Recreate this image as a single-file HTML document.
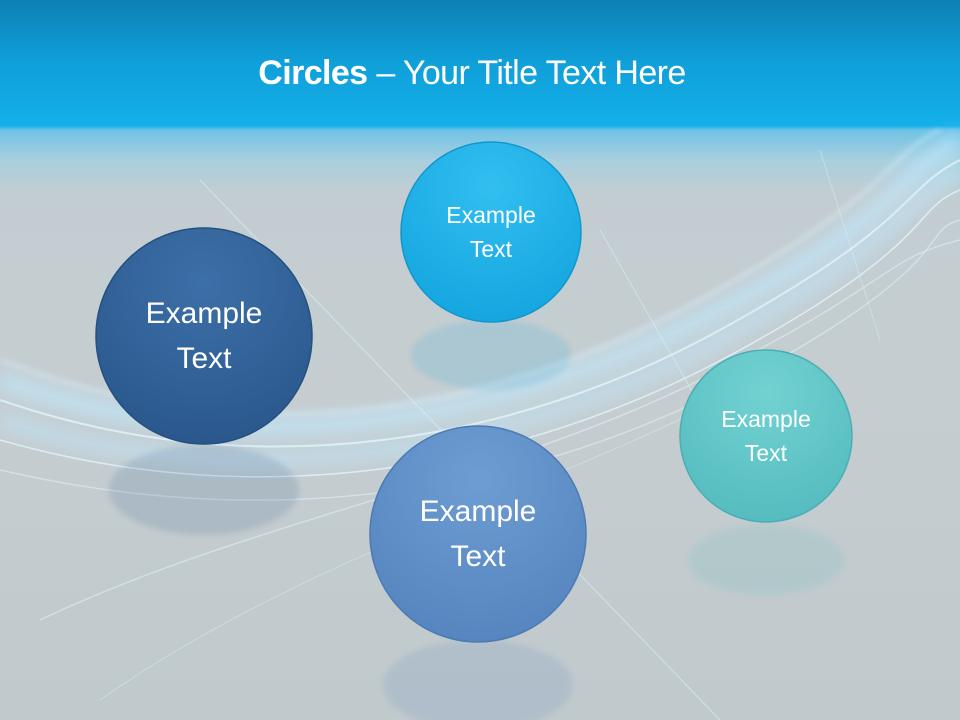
<!DOCTYPE html>
<html><head><meta charset="utf-8"><style>
html,body{margin:0;padding:0}
body{width:960px;height:720px;position:relative;overflow:hidden;font-family:"Liberation Sans",sans-serif;
background:linear-gradient(180deg,#0c80b2 0px,#0f9ed8 60px,#14b0ea 126px,#6fc3e6 130px,#a9cfde 160px,#c3cdd1 195px,#c5cdd0 400px,#c0c9cc 720px)}
.title{position:absolute;top:54px;left:0;width:944px;text-align:center;color:#fff;font-size:34px;letter-spacing:-0.6px}
.c{position:absolute;border-radius:50%;display:flex;align-items:center;justify-content:center;text-align:center;color:#fff;line-height:1.5}
</style></head><body>
<svg width="960" height="720" style="position:absolute;left:0;top:0">
<defs>
<filter id="b" x="-20%" y="-20%" width="140%" height="140%"><feGaussianBlur stdDeviation="3"/></filter>
<filter id="b2"><feGaussianBlur stdDeviation="8"/></filter>
<radialGradient id="r1" cx="50%" cy="25%" r="75%"><stop offset="0" stop-color="#3d6fa8"/><stop offset="1" stop-color="#2a588d"/></radialGradient>
<radialGradient id="r2" cx="50%" cy="25%" r="75%"><stop offset="0" stop-color="#32bff0"/><stop offset="1" stop-color="#15a6e0"/></radialGradient>
<radialGradient id="r3" cx="50%" cy="25%" r="75%"><stop offset="0" stop-color="#6d9dd2"/><stop offset="1" stop-color="#5685bf"/></radialGradient>
<radialGradient id="r4" cx="50%" cy="25%" r="75%"><stop offset="0" stop-color="#72d2d2"/><stop offset="1" stop-color="#56bcbf"/></radialGradient>
</defs>
<g fill="none" stroke="#dff4ff" opacity="0.85">
<path d="M0 380 C250 470 500 420 700 320 S900 170 960 140" stroke-width="18" filter="url(#b2)" opacity="0.8" stroke="#bfe9ff"/>
<path d="M0 420 C250 500 520 450 720 340 S900 200 960 170" stroke-width="14" filter="url(#b2)" opacity="0.7" stroke="#bfe9ff"/>
<path d="M0 360 C260 460 500 410 700 300 S880 160 940 130" stroke-width="2" filter="url(#b)"/>
<path d="M0 400 C260 490 520 440 720 330 S900 190 960 160" stroke-width="2"/>
<path d="M0 440 C280 520 540 460 740 350 S910 210 960 190" stroke-width="1.5"/>
<path d="M0 470 C300 540 560 480 760 370 S920 230 960 220" stroke-width="1.5" opacity="0.6"/>
<path d="M40 620 C250 520 500 480 700 380 S880 260 960 240" stroke-width="1.5" opacity="0.6"/>
<path d="M100 700 C300 560 520 500 720 400" stroke-width="1" opacity="0.5"/>
<path d="M200 180 L720 720" stroke-width="1.2" opacity="0.6"/>
<path d="M600 230 L720 440" stroke-width="1" opacity="0.6"/>
<path d="M820 150 L880 340" stroke-width="1" opacity="0.5"/>
</g>
<g opacity="0.15" filter="url(#b)">
<ellipse cx="204" cy="490" rx="95" ry="45" fill="#2a588d"/>
<ellipse cx="491" cy="355" rx="80" ry="35" fill="#15a6e0"/>
<ellipse cx="478" cy="685" rx="95" ry="45" fill="#5685bf"/>
<ellipse cx="766" cy="560" rx="78" ry="35" fill="#56bcbf"/>
</g>
<g stroke-width="1.5">
<circle cx="204" cy="336" r="108" fill="url(#r1)" stroke="#24507f"/>
<circle cx="491" cy="232" r="90" fill="url(#r2)" stroke="#1297cc"/>
<circle cx="478" cy="534" r="108" fill="url(#r3)" stroke="#4c7ab3"/>
<circle cx="766" cy="436" r="86" fill="url(#r4)" stroke="#4aaeb2"/>
</g>
</svg>
<div class="title"><b>Circles</b> – Your Title Text Here</div>
<div class="c" style="left:96px;top:228px;width:216px;height:216px;font-size:30px">Example<br>Text</div>
<div class="c" style="left:401px;top:142px;width:180px;height:180px;font-size:23px">Example<br>Text</div>
<div class="c" style="left:370px;top:426px;width:216px;height:216px;font-size:30px">Example<br>Text</div>
<div class="c" style="left:680px;top:350px;width:172px;height:172px;font-size:23px">Example<br>Text</div>
</body></html>
